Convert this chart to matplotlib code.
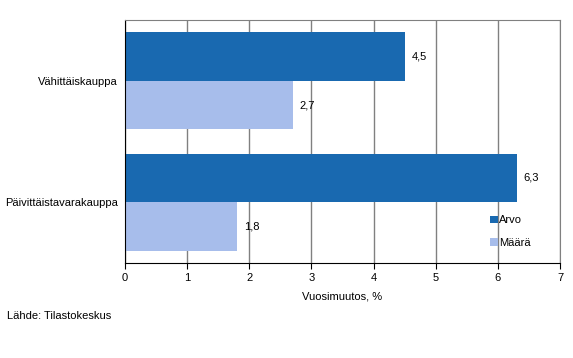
import matplotlib.pyplot as plt
import numpy as np

categories = ["Vähittäiskauppa", "Päivittäistavarakauppa"]
arvo = [4.5, 6.3]
maara = [2.7, 1.8]
series_names = ["Arvo", "Määrä"]
colors = ["#1969b0", "#a7bdeb"]

plt.rcParams["font.family"] = ["Liberation Sans", "DejaVu Sans"]
plt.rcParams["font.size"] = 8

fig = plt.figure(figsize=(5.73, 3.58), dpi=100)
ax = fig.add_axes([125 / 573, 95 / 358, 435 / 573, 243 / 358])

y = np.arange(len(categories))
h = 0.4
b1 = ax.barh(y - h / 2, arvo, height=h, color=colors[0], label=series_names[0], zorder=2)
b2 = ax.barh(y + h / 2, maara, height=h, color=colors[1], label=series_names[1], zorder=2)

for bars, vals in ((b1, arvo), (b2, maara)):
    for bar, v in zip(bars, vals):
        ax.text(v + 0.11, bar.get_y() + bar.get_height() / 2,
                f"{v:.1f}".replace(".", ","), va="center", ha="left")

ax.set_xlim(0, 7)
ax.set_ylim(1.5, -0.5)
ax.set_xticks(range(8))
ax.set_yticks(y)
ax.set_yticklabels(categories)
ax.tick_params(axis="y", length=0, pad=5)
ax.tick_params(axis="x", length=4, direction="out", color="black")
ax.grid(axis="x", color="#808080", linewidth=1, zorder=0)
ax.set_axisbelow(True)

for s in ("top", "right"):
    ax.spines[s].set_color("#808080")
ax.spines["left"].set_color("black")
ax.spines["bottom"].set_color("black")

ax.set_xlabel("Vuosimuutos, %", labelpad=6)
ax.legend(loc="lower right", bbox_to_anchor=(0.955, 0.02), frameon=False,
          handlelength=0.7, handleheight=0.7, handletextpad=0.1,
          labelspacing=1.15)

fig.text(7 / 573, 1 - 316 / 358, "Lähde: Tilastokeskus", va="center", ha="left")

fig.savefig("out.png", dpi=100)
